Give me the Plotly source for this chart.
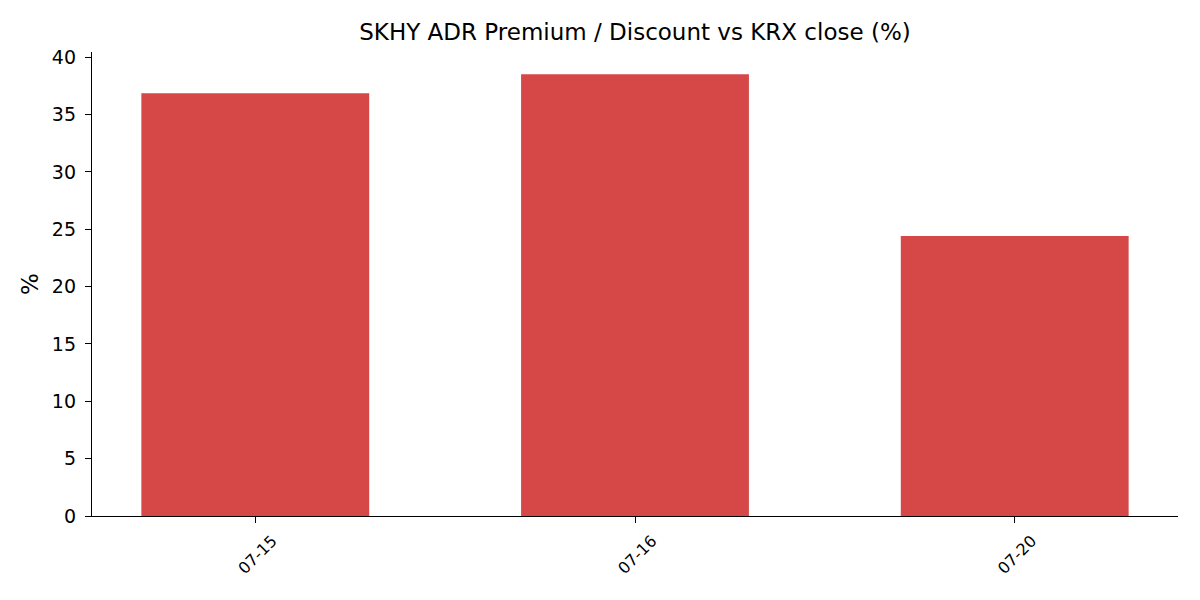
import plotly.graph_objects as go

dates = ["07-15", "07-16", "07-20"]
premium = [36.86, 38.52, 24.40]

fig = go.Figure()

fig.add_trace(go.Bar(
    x=list(range(len(dates))), y=premium,
    width=0.6, marker_color="#d64747", marker_line_width=0,
))

# page body has an 8px margin, so the plot box is nudged back by 8px
fig.update_layout(
    width=1200, height=600,
    margin=dict(l=84, r=30, t=44, b=92),
    plot_bgcolor="white", paper_bgcolor="white",
    font=dict(family="DejaVu Sans", color="black", size=19),
    title=dict(text="SKHY ADR Premium / Discount vs KRX close (%)",
               x=(92 + 1178) / 2 / 1200 - 8 / 1200, xanchor="center",
               y=1 - 24 / 600, yanchor="middle",
               font=dict(size=23)),
    showlegend=False,
)

fig.update_xaxes(
    range=[-0.43, 2.43],
    tickvals=list(range(len(dates))), ticktext=dates,
    tickangle=-45, tickfont=dict(size=16),
    ticks="outside", ticklen=6, tickcolor="black",
    showline=True, linecolor="black", linewidth=1.3,
    showgrid=False, zeroline=False,
    ticklabelshift=17, ticklabelstandoff=2,
)

fig.update_yaxes(
    range=[0, 40.45],
    tickvals=[0, 5, 10, 15, 20, 25, 30, 35, 40],
    ticks="outside", ticklen=6, tickcolor="black",
    showline=True, linecolor="black", linewidth=1.3,
    showgrid=False, zeroline=False,
    ticklabelstandoff=5,
    title=dict(text="%", standoff=6),
)

fig.write_html("out.html")
